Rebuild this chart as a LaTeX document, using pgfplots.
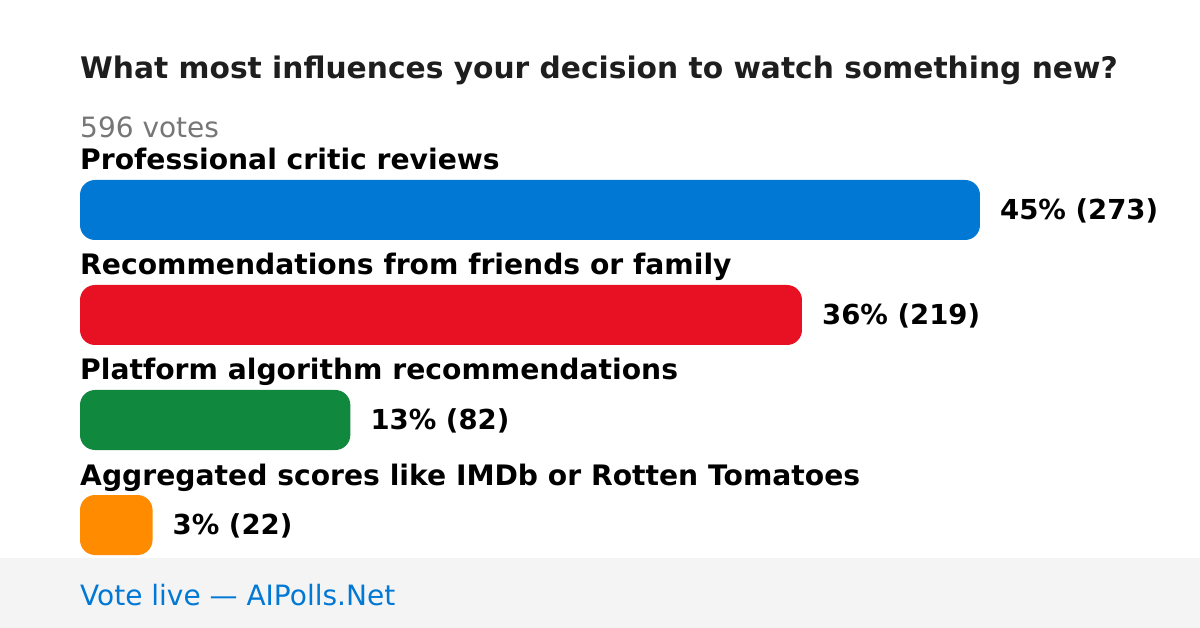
\documentclass[border=0pt]{standalone}
\usepackage{pgfplots}
\pgfplotsset{compat=1.18}
\usepackage{fontspec}
\setmainfont{DejaVu Sans}
\definecolor{cblue}{HTML}{0078D4}
\definecolor{cred}{HTML}{E81123}
\definecolor{cgreen}{HTML}{10893E}
\definecolor{corange}{HTML}{FF8C00}
\definecolor{ctitle}{HTML}{1E1E1E}
\definecolor{cgray}{HTML}{767676}
\definecolor{cfoot}{HTML}{F4F4F4}
\begin{document}
\begin{tikzpicture}[x=1pt,y=1pt]
\fill[white] (0,0) rectangle (1200,628);
\fill[cfoot] (0,0) rectangle (1200,70);
\begin{axis}[
  at={(0,0)}, anchor=south west,
  scale only axis, width=1200pt, height=628pt,
  xmin=-24.2667, xmax=339.7333,
  ymin=0, ymax=628, y dir=reverse,
  axis lines=none, clip=false,
  xbar, bar shift=0pt, bar width=60,
  nodes near coords={\pgfplotspointmeta},
  point meta=explicit symbolic,
  every node near coord/.style={anchor=west, inner sep=0pt, xshift=20pt, yshift=-1pt, font=\fontsize{27.5}{32}\selectfont\bfseries, text=black},
]
\addplot[draw=none, fill=cblue, rounded corners=15pt] table[x=v, y=y, meta=l, col sep=comma] {
y,v,l
210,273,45\% (273)
};
\addplot[draw=none, fill=cred, rounded corners=15pt] table[x=v, y=y, meta=l, col sep=comma] {
y,v,l
315,219,36\% (219)
};
\addplot[draw=none, fill=cgreen, rounded corners=15pt] table[x=v, y=y, meta=l, col sep=comma] {
y,v,l
420,82,13\% (82)
};
\addplot[draw=none, fill=corange, rounded corners=15pt] table[x=v, y=y, meta=l, col sep=comma] {
y,v,l
525,22,3\% (22)
};
\node[anchor=base west, inner sep=0pt, text=ctitle, font=\fontsize{29.7}{34}\selectfont\bfseries] at (axis cs:0,79) {What most influences your decision to watch something new?};
\node[anchor=base west, inner sep=0pt, text=cgray, font=\fontsize{28}{32}\selectfont] at (axis cs:0,138) {596 votes};
\node[anchor=base west, inner sep=0pt, font=\fontsize{28.2}{32}\selectfont\bfseries] at (axis cs:0,170) {Professional critic reviews};
\node[anchor=base west, inner sep=0pt, font=\fontsize{28.2}{32}\selectfont\bfseries] at (axis cs:0,275) {Recommendations from friends or family};
\node[anchor=base west, inner sep=0pt, font=\fontsize{28.2}{32}\selectfont\bfseries] at (axis cs:0,380) {Platform algorithm recommendations};
\node[anchor=base west, inner sep=0pt, font=\fontsize{28.2}{32}\selectfont\bfseries] at (axis cs:0,485) {Aggregated scores like IMDb or Rotten Tomatoes};
\node[anchor=base west, inner sep=0pt, text=cblue, font=\fontsize{28}{32}\selectfont] at (axis cs:0,605) {Vote live — AIPolls.Net};
\end{axis}
\end{tikzpicture}
\end{document}
